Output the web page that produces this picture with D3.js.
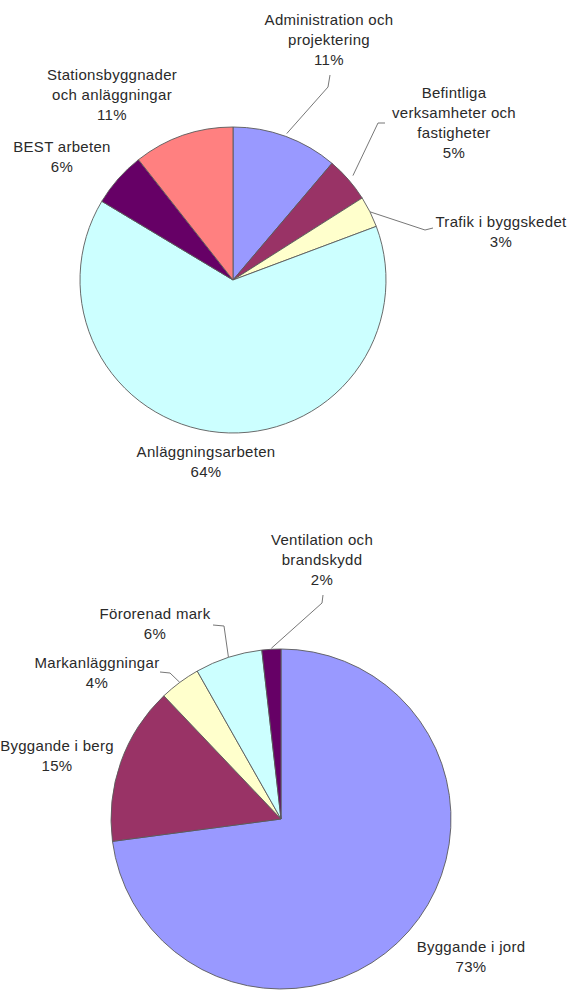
<!DOCTYPE html>
<html>
<head>
<meta charset="utf-8">
<script src="https://cdn.jsdelivr.net/npm/d3@7"></script>
<style>
  body { margin: 0; background: #fff; }
  svg { display: block; }
  .lbl { font-family: "Liberation Sans", Arial, sans-serif; font-size: 15px; letter-spacing: 0.3px; fill: #2a2a2a; }
  .leader { fill: none; stroke: #777; stroke-width: 1; }
</style>
</head>
<body>
<svg id="chart" width="573" height="990"></svg>
<script>
// upper pie (clockwise from 12 o'clock)
const topNames = [
  ["Administration och", "projektering"],
  ["Befintliga", "verksamheter och", "fastigheter"],
  ["Trafik i byggskedet"],
  ["Anläggningsarbeten"],
  ["BEST arbeten"],
  ["Stationsbyggnader", "och anläggningar"]
];
const topValues = [11.2, 4.8, 3.3, 64.3, 5.8, 10.6];
const topColors = ["#9999ff", "#993366", "#ffffcc", "#ccffff", "#660066", "#ff8080"];

// lower pie
const bottomNames = [
  ["Byggande i jord"],
  ["Byggande i berg"],
  ["Markanläggningar"],
  ["Förorenad mark"],
  ["Ventilation och", "brandskydd"]
];
const bottomValues = [72.9, 15.0, 3.9, 6.4, 1.8];
const bottomColors = ["#9999ff", "#993366", "#ffffcc", "#ccffff", "#660066"];

// label placement: centre x, first line y, optional leader (label end, elbow)
const topLayout = [
  {x: 329, y: 20, lead: [[330, 75], [328, 87]], r: 3},
  {x: 454, y: 93, lead: [[385, 123], [378, 123]], r: 6},
  {x: 501, y: 222, lead: [[433, 228], [425, 230]], r: 0},
  {x: 206, y: 452},
  {x: 62, y: 147},
  {x: 112, y: 75}
];
const bottomLayout = [
  {x: 471, y: 947},
  {x: 57, y: 746},
  {x: 97, y: 663, lead: [[160, 672], [170, 673]], r: 0},
  {x: 155, y: 614, lead: [[213, 625], [224, 626]], r: 0},
  {x: 322, y: 540, lead: [[323, 595], [322, 603]], r: 1}
];

const svg = d3.select("#chart");
const lineH = 20;

function drawPie(cx, cy, radius, names, values, colors, layout) {
    const pie = d3.pie().sort(null).value(d => d);
    const arcs = pie(values);
    const arc = d3.arc().innerRadius(0).outerRadius(radius);
    const total = d3.sum(values);

    const g = svg.append("g").attr("transform", "translate(" + cx + "," + cy + ")");
    g.selectAll("path")
        .data(arcs)
        .enter().append("path")
        .attr("d", arc)
        .attr("fill", (d, i) => colors[i])
        .attr("stroke", "#5a5a5a")
        .attr("stroke-width", 0.9);

    arcs.forEach(function(a, i) {
        const l = layout[i];
        if (l.lead) {
            const edge = d3.arc().innerRadius(radius + l.r).outerRadius(radius + l.r)
                .centroid(a);
            const pts = l.lead.concat([[cx + edge[0], cy + edge[1]]]);
            svg.append("path")
                .attr("class", "leader")
                .attr("d", d3.line()(pts));
        }
        const lines = names[i].concat([Math.round(values[i] / total * 100) + "%"]);
        const t = svg.append("text")
            .attr("class", "lbl")
            .attr("text-anchor", "middle");
        lines.forEach(function(s, k) {
            t.append("tspan")
                .attr("x", l.x)
                .attr("y", l.y + k * lineH)
                .attr("dy", "0.35em")
                .text(s);
        });
    });
}

drawPie(233, 280, 153, topNames, topValues, topColors, topLayout);
drawPie(281, 819, 170, bottomNames, bottomValues, bottomColors, bottomLayout);
</script>
</body>
</html>
